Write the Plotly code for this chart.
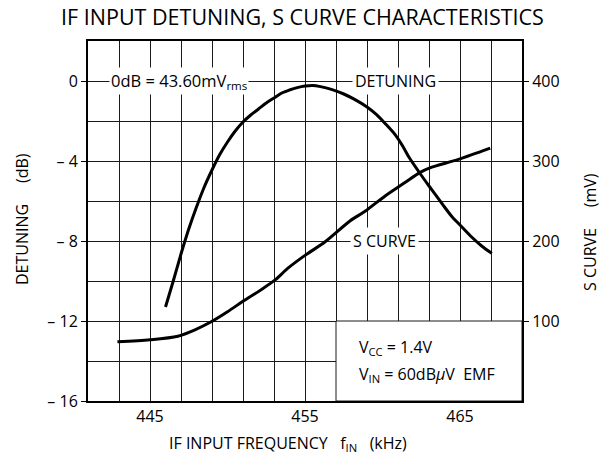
import plotly.graph_objects as go

# ---- data ----
freq_det = [446.0, 446.5, 447.0, 447.5, 448.0, 448.5, 449.0, 449.5, 450.0, 450.5,
            451.0, 451.5, 452.0, 452.5, 453.0, 453.5, 454.0, 454.5, 455.0, 455.5,
            456.0, 456.7, 457.5, 458.2, 459.0, 459.6, 460.2, 460.8, 461.3, 461.7,
            462.4, 463.0, 463.4, 464.0, 464.5, 465.0, 465.75, 466.4, 467.05]
detuning_db = [-11.3, -10.0, -8.65, -7.4, -6.3, -5.3, -4.45, -3.68, -3.05, -2.5,
               -2.05, -1.7, -1.4, -1.1, -0.85, -0.6, -0.45, -0.33, -0.25, -0.22,
               -0.28, -0.42, -0.65, -0.92, -1.3, -1.67, -2.15, -2.67, -3.25, -3.8,
               -4.6, -5.25, -5.67, -6.3, -6.8, -7.2, -7.8, -8.25, -8.62]

freq_s = [442.9, 445.0, 446.8, 447.9, 448.95, 450.0, 451.1, 452.2, 453.05, 453.9,
          455.0, 456.3, 457.9, 458.9, 460.15, 461.45, 462.4, 463.05, 464.9, 466.95]
s_curve_mv = [74, 76.5, 81, 89, 99, 111.5, 126, 139.5, 151, 166,
              182, 199, 225, 237.5, 256, 273, 285.5, 291.5, 302, 316]

x_tick_vals = [445, 455, 465]
y_tick_vals = [0, -4, -8, -12, -16]
y_tick_text = ["0", "\u2013 4", "\u2013 8", "\u2013 12", "\u2013 16"]
y2_tick_vals = [100, 200, 300, 400]

FONT = "Open Sans"
GRID = "#1a1a1a"
sp = "\u00a0"

fig = go.Figure()
fig.add_trace(go.Scatter(x=freq_det, y=detuning_db, mode="lines",
                         line=dict(color="black", width=3, shape="spline", smoothing=0.8),
                         yaxis="y", showlegend=False, hoverinfo="skip"))
fig.add_trace(go.Scatter(x=freq_s, y=s_curve_mv, mode="lines",
                         line=dict(color="black", width=3, shape="spline", smoothing=0.8),
                         yaxis="y2", showlegend=False, hoverinfo="skip"))

fig.update_layout(
    width=605, height=461,
    margin=dict(l=88, r=83, t=41, b=60),
    paper_bgcolor="white", plot_bgcolor="white",
    font=dict(family=FONT, size=16, color="black"),
    title=dict(text="IF INPUT DETUNING, S CURVE CHARACTERISTICS",
               x=0.5, xref="container", xanchor="center",
               y=1 - 17 / 461, yref="container", yanchor="middle",
               font=dict(family=FONT, size=21.5, color="black")),
    xaxis=dict(range=[441, 469], tickvals=x_tick_vals, ticks="",
               showgrid=True, gridcolor=GRID, gridwidth=1,
               minor=dict(tick0=441, dtick=2, showgrid=True, gridcolor=GRID, gridwidth=1, ticks=""),
               showline=True, linecolor="black", linewidth=2, mirror=True,
               zeroline=False, tickfont=dict(size=16), fixedrange=True),
    yaxis=dict(range=[-16, 2], tickvals=y_tick_vals, ticktext=y_tick_text,
               ticks="outside", ticklen=5, tickcolor="black", tickwidth=1,
               showgrid=True, gridcolor=GRID, gridwidth=1,
               minor=dict(tick0=0, dtick=2, showgrid=True, gridcolor=GRID, gridwidth=1, ticks=""),
               showline=True, linecolor="black", linewidth=2, mirror=True,
               zeroline=False, tickfont=dict(size=16)),
    yaxis2=dict(range=[0, 450], overlaying="y", side="right", tickvals=y2_tick_vals,
                ticks="outside", ticklen=5, tickcolor="black", tickwidth=1,
                showgrid=False, showline=True, linecolor="black", linewidth=2,
                zeroline=False, tickfont=dict(size=16)),
)

# white box for conditions
fig.add_shape(type="rect", xref="x", yref="y", x0=457, x1=469, y0=-16, y1=-12,
              fillcolor="white", line=dict(color=GRID, width=1), layer="between")

ann = [
    dict(text=f"DETUNING{sp}{sp}{sp}{sp}{sp}(dB)", xref="paper", yref="paper",
         x=(22 - 88) / 434, y=(401 - 219) / 360, textangle=-90, showarrow=False,
         xanchor="center", yanchor="middle", font=dict(size=16)),
    dict(text=f"S{sp}CURVE{sp}{sp}{sp}{sp}{sp}(mV)", xref="paper", yref="paper",
         x=(590 - 88) / 434, y=(401 - 232) / 360, textangle=-90, showarrow=False,
         xanchor="center", yanchor="middle", font=dict(size=16)),
    dict(text=f"IF{sp}INPUT{sp}FREQUENCY{sp}{sp}{sp}f<sub>IN</sub>{sp}{sp}{sp}(kHz)",
         xref="paper", yref="paper", x=(288 - 88) / 434, y=(401 - 443) / 360,
         showarrow=False, xanchor="center", yanchor="middle", font=dict(size=16)),
    dict(text="0dB = 43.60mV<sub>rms</sub>", xref="x", yref="y", x=446.87, y=0,
         showarrow=False, xanchor="center", yanchor="middle", bgcolor="white",
         borderpad=1, font=dict(size=16.5)),
    dict(text="DETUNING", xref="x", yref="y", x=460.84, y=0,
         showarrow=False, xanchor="center", yanchor="middle", bgcolor="white",
         borderpad=2, font=dict(size=16)),
    dict(text="S CURVE", xref="x", yref="y", x=460.13, y=-8,
         showarrow=False, xanchor="center", yanchor="middle", bgcolor="white",
         borderpad=2, font=dict(size=16)),
    dict(text="V<sub>CC</sub> = 1.4V", xref="x", yref="y", x=458.35, y=-13.3,
         showarrow=False, xanchor="left", yanchor="middle", font=dict(size=16)),
    dict(text=f"V<sub>IN</sub> = 60dB<i>\u03bc</i>V{sp}{sp}EMF", xref="x", yref="y", x=458.35, y=-14.65,
         showarrow=False, xanchor="left", yanchor="middle", font=dict(size=16)),
]
fig.update_layout(annotations=ann)

fig.write_html("out.html", config={"displayModeBar": False},
               post_script="document.body.style.margin='0px';")
